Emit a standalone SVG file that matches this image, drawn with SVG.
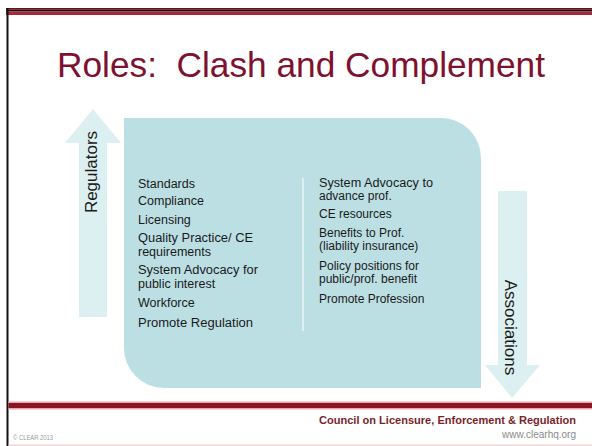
<svg xmlns="http://www.w3.org/2000/svg" width="592" height="446" viewBox="0 0 592 446">
  <style>
    .list { font-family: "Liberation Sans", Arial, sans-serif; fill: #1a1a1a; }
    .l { font-size: 12.5px; }
    .r { font-size: 12px; }
    .arrowlbl { font-family: "Liberation Sans", Arial, sans-serif; font-size: 17px; fill: #1a1a1a; text-anchor: middle; }
    .arrow { fill: #ddf0f1; }
  </style>
  <rect x="0" y="0" width="592" height="446" fill="#ffffff"/>
  <g id="frame">
    <rect x="6" y="8" width="586" height="1.5" fill="#6a0d18"/>
    <rect x="6" y="9.5" width="586" height="2" fill="#1a0a0c"/>
    <rect x="6" y="11.5" width="586" height="3.5" fill="#a32a3a"/>
    <rect x="6.5" y="8" width="2" height="438" fill="#111111"/>
    <rect x="8.5" y="401.5" width="583.5" height="1.5" fill="#e6a7ae"/>
    <rect x="8.5" y="403" width="583.5" height="5" fill="#8a1624"/>
    <rect x="8.5" y="408" width="583.5" height="1.5" fill="#e6a7ae"/>
    <rect x="8.5" y="444.5" width="583.5" height="1.5" fill="#f1d3d7"/>
  </g>
  <g id="title">
    <text x="57" y="77" font-family="'Liberation Sans', Arial, sans-serif" font-size="35" fill="#7d1230" textLength="488" lengthAdjust="spacingAndGlyphs" xml:space="preserve">Roles:  Clash and Complement</text>
  </g>
  <g id="panel">
    <path d="M124 118 H441 A40 40 0 0 1 481 158 V388 H164 A40 40 0 0 1 124 348 Z" fill="#bcdfe4"/>
    <line x1="303" y1="178" x2="303" y2="331" stroke="#e9f5f6" stroke-width="1.5"/>
  </g>
  <g id="regulators">
    <path class="arrow" d="M93 109 L121 143 H107 V317 H79 V143 H65 Z"/>
    <text class="arrowlbl" transform="translate(97 172) rotate(-90)">Regulators</text>
  </g>
  <g id="associations">
    <path class="arrow" d="M498 191 H527 V365 H540 L512 398 L485 365 H498 Z"/>
    <text class="arrowlbl" transform="translate(505 327.5) rotate(90)">Associations</text>
  </g>
  <g id="regulator-roles" class="list l">
    <text x="138" y="187.5">Standards</text>
    <text x="138" y="204.5">Compliance</text>
    <text x="138" y="223.5">Licensing</text>
    <text x="138" y="242" textLength="115" lengthAdjust="spacingAndGlyphs">Quality Practice/ CE</text>
    <text x="138" y="255.5">requirements</text>
    <text x="138" y="274" textLength="120" lengthAdjust="spacingAndGlyphs">System Advocacy for</text>
    <text x="138" y="288">public interest</text>
    <text x="138" y="307">Workforce</text>
    <text x="138" y="326.5" textLength="115" lengthAdjust="spacingAndGlyphs">Promote Regulation</text>
  </g>
  <g id="association-roles" class="list r">
    <text x="319" y="186.5" textLength="114" lengthAdjust="spacingAndGlyphs">System Advocacy to</text>
    <text x="319" y="199.5">advance prof.</text>
    <text x="319" y="218">CE resources</text>
    <text x="319" y="236.5">Benefits to Prof.</text>
    <text x="319" y="249.5">(liability insurance)</text>
    <text x="319" y="269.5">Policy positions for</text>
    <text x="319" y="282.5">public/prof. benefit</text>
    <text x="319" y="302.5">Promote Profession</text>
  </g>
  <g id="footer">
    <text x="576" y="424" text-anchor="end" font-family="'Liberation Sans', Arial, sans-serif" font-size="11" font-weight="bold" fill="#7a1f2b" textLength="257" lengthAdjust="spacingAndGlyphs">Council on Licensure, Enforcement &amp; Regulation</text>
    <text x="576" y="438" text-anchor="end" font-family="'Liberation Sans', Arial, sans-serif" font-size="10" fill="#8a8a8a">www.clearhq.org</text>
    <text x="13" y="440" font-family="'Liberation Sans', Arial, sans-serif" font-size="6.5" fill="#9a9a9a" textLength="40" lengthAdjust="spacingAndGlyphs">© CLEAR 2013</text>
  </g>
</svg>
